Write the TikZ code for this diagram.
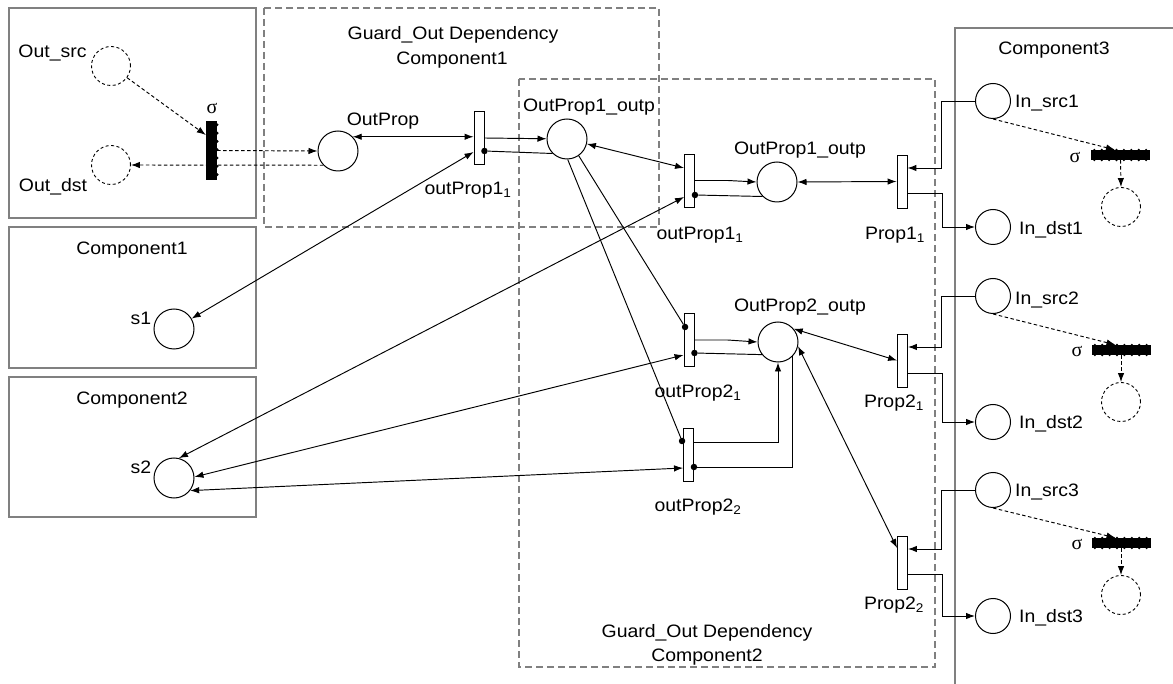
\documentclass[tikz,border=0pt]{standalone}
\usepackage{fontspec}
\setmainfont{Liberation Sans}[FakeStretch=1.08]
\newfontfamily\sigfont{Liberation Serif}
\usetikzlibrary{arrows.meta,calc}

\begin{document}
\begin{tikzpicture}[x=1pt,y=-1pt,
  font=\fontsize{18}{21}\selectfont,
  pl/.style={circle,draw,line width=1pt,minimum size=40pt,inner sep=0pt},
  inpl/.style={pl,minimum size=35pt},
  ghost/.style={pl,minimum size=39pt,line width=0.9pt,dash pattern=on 3pt off 2.5pt},
  tr/.style={rectangle,draw,line width=0.9pt,fill=white,minimum width=10pt,minimum height=53pt,inner sep=0pt},
  sigbar/.style={rectangle,fill=black,inner sep=0pt},
  tokdot/.style={circle,fill=black,minimum size=6.5pt,inner sep=0pt},
  compbox/.style={draw=gray,line width=1.6pt},
  guardbox/.style={draw=gray,line width=1.3pt,dash pattern=on 7pt off 4pt},
  flow/.style={line width=0.95pt,-{Latex[length=9pt,width=6.5pt]}},
  biflow/.style={line width=0.95pt,{Latex[length=9pt,width=6.5pt]}-{Latex[length=9pt,width=6.5pt]}},
  inhflow/.style={line width=0.95pt},
  dflow/.style={flow,dash pattern=on 3.5pt off 2.5pt},
  txt/.style={inner sep=0pt},
  sig/.style={inner sep=0pt,font=\fontsize{20}{22}\sigfont}
]
\useasboundingbox (0,0) rectangle (1173,684);

% component frames
\draw[compbox] (9,8) rectangle (256,218);
\draw[compbox] (9,227) rectangle (256,368);
\draw[compbox] (9,377) rectangle (256,517);
\draw[compbox] (1174,28) -- (955,28) -- (955,685);

% guard/out dependency frames
\draw[guardbox] (264,8) rectangle (659,227);
\draw[guardbox] (519,79) rectangle (935,667);

% places of the source component
\node[ghost] (osrc) at (111,66) {};
\node[ghost] (odst) at (111,165) {};
\node[sigbar,minimum width=11pt,minimum height=59pt] (sg0) at (211.5,150.5) {};
\foreach \k in {0,...,6}
  \fill ($(sg0.north east)+(0,4+8.3*\k)$) circle (1.5);

% guard net
\node[pl] (oprop) at (338,151) {};
\node[tr] (t0) at (479,138) {};
\node[pl] (p1) at (567,139) {};
\node[tr] (t1) at (689.5,180.5) {};
\node[pl] (p2) at (777,182) {};
\node[tr] (t6) at (902,181.5) {};
\node[tr] (t2) at (689,340) {};
\node[pl] (p3) at (778,342) {};
\node[tr] (t3) at (688.5,454.5) {};
\node[tr] (t4) at (902.5,360.5) {};
\node[tr] (t5) at (902.5,562.5) {};

% target places
\node[pl] (s1) at (174,329) {};
\node[pl] (s2) at (174,478) {};

% Component3
\node[inpl] (in1) at (993,101) {};
\node[inpl] (id1) at (993,227) {};
\node[inpl] (in2) at (993,296) {};
\node[inpl] (id2) at (993,422) {};
\node[inpl] (in3) at (993,490) {};
\node[inpl] (id3) at (993,616) {};
\node[sigbar,minimum width=59pt,minimum height=10pt] (sg1) at (1120.5,155) {};
\node[sigbar,minimum width=59pt,minimum height=10pt] (sg2) at (1121,350) {};
\node[sigbar,minimum width=59pt,minimum height=10pt] (sg3) at (1121,543) {};
\foreach \b in {sg1,sg2,sg3}
  \foreach \k in {0,...,7} {
    \fill ($(\b.north west)+(3.5+7.4*\k,0)$) circle (1.1);
    \fill ($(\b.south west)+(3.5+7.4*\k,0)$) circle (1.1);
  }
\node[ghost] (g1) at (1121,207) {};
\node[ghost] (g2) at (1121,402) {};
\node[ghost] (g3) at (1121,595) {};

% inhibitor/test dots on transitions
\node[tokdot] (d0) at ([yshift=-13pt]t0.east) {};
\node[tokdot] (d1) at ([yshift=-14.5pt]t1.east) {};
\node[tokdot] (d2a) at ([xshift=1.5pt,yshift=13pt]t2.west) {};
\node[tokdot] (d2b) at ([yshift=-13pt]t2.east) {};
\node[tokdot] (d3a) at ([xshift=-1pt,yshift=13.5pt]t3.west) {};
\node[tokdot] (d3b) at ([yshift=-12.5pt]t3.east) {};

% connectors in the source component
\draw[dflow] (osrc) -- ([yshift=15.5pt]sg0.west);
\draw[dflow] (sg0.east) -- (oprop.west);
\draw[dflow] (oprop.224) -- (odst.east);

% guard net connectors
\draw[biflow] (oprop.44) -- (oprop.44 -| t0.west);
\draw[flow] (t0.east) -- (p1);
\draw[inhflow] (p1.225) -- (d0);
\draw[biflow] (s1) -- ([yshift=-14pt]t0.west);
\draw[biflow] (p1) -- ([yshift=12.5pt]t1.west);
\draw[biflow] (s2.76) -- ([yshift=-16.5pt]t1.west);
\draw[biflow] (s2.3) -- ([yshift=-15pt]t2.west);
\draw[biflow] (s2.-38) -- ([yshift=-13.5pt]t3.west);
\draw[inhflow] (p1.-55) -- (d2a);
\draw[inhflow] (p1.-88) -- (d3a);
\draw[flow] (t1.east) -- ++(33,0) -- (p2.west);
\draw[inhflow] (p2.225) -- (d1);
\draw[biflow] (p2.east) -- (t6.west);
\draw[flow] (t2.east) -- ++(33,0) -- (p3.west);
\draw[inhflow] (p3.218) -- (d2b);
\draw[flow] ([yshift=12.5pt]t3.east) -| (p3.south);
\draw[inhflow] (p3.-45) |- (d3b);
\draw[biflow] (p3.40) -- (t4.west);
\draw[biflow] (p3.-12) -- ([yshift=14.5pt]t5.west);

% links into Component3
\draw[flow] (in1.west) -- ++(-34,0) |- ([yshift=13.5pt]t6.east);
\draw[flow] ([yshift=-11.5pt]t6.east) -- ++(35,0) |- (id1.west);
\draw[flow] (in2.west) -- ++(-34,0) |- ([yshift=13.5pt]t4.east);
\draw[flow] ([yshift=-12.5pt]t4.east) -- ++(35,0) |- (id2.west);
\draw[flow] (in3.west) -- ++(-34,0) |- ([yshift=13.5pt]t5.east);
\draw[flow] ([yshift=-11.5pt]t5.east) -- ++(35,0) |- (id3.west);
\draw[dflow] (in1.south) -- ([xshift=-5.5pt]sg1.north);
\draw[dflow] (sg1.south) -- (g1.north);
\draw[dflow] (in2.south) -- ([xshift=-5.5pt]sg2.north);
\draw[dflow] (sg2.south) -- (g2.north);
\draw[dflow] (in3.south) -- ([xshift=-5.5pt]sg3.north);
\draw[dflow] (sg3.south) -- (g3.north);

% labels
\node[txt] (lOsrc) at (52.5,53) {Out\_src};
\node[txt] (lOdst) at (53,187) {Out\_dst};
\node[sig] (lsg0) at (212,108) {σ};
\node[txt] (lg1a) at (453,35) {Guard\_Out Dependency};
\node[txt] (lg1b) at (452,60) {Component1};
\node[txt] (loprop) at (383,121) {OutProp};
\node[txt] (lt0) at (468,190) {outProp1\textsubscript{1}};
\node[txt] (lp1) at (589,107) {OutProp1\_outp};
\node[txt] (lp2) at (800,150) {OutProp1\_outp};
\node[txt] (lt1) at (700,235) {outProp1\textsubscript{1}};
\node[txt] (lt6) at (895,235) {Prop1\textsubscript{1}};
\node[txt] (lp3) at (800,307) {OutProp2\_outp};
\node[txt] (lt2) at (698,393) {outProp2\textsubscript{1}};
\node[txt] (lt3) at (698,507) {outProp2\textsubscript{2}};
\node[txt] (lt4) at (894,403) {Prop2\textsubscript{1}};
\node[txt] (lt5) at (894,605) {Prop2\textsubscript{2}};
\node[txt] (lg2a) at (707,633) {Guard\_Out Dependency};
\node[txt] (lg2b) at (707,657) {Component2};
\node[txt] (lc1) at (132,250) {Component1};
\node[txt] (lc2) at (132,400) {Component2};
\node[txt] (ls1) at (141,318) {s1};
\node[txt] (ls2) at (141,467) {s2};
\node[txt] (lc3) at (1054,50) {Component3};
\node[txt,anchor=west] (lin1) at (1015,103) {In\_src1};
\node[txt,anchor=west] (lid1) at (1019,230) {In\_dst1};
\node[txt,anchor=west] (lin2) at (1015,300) {In\_src2};
\node[txt,anchor=west] (lid2) at (1019,424) {In\_dst2};
\node[txt,anchor=west] (lin3) at (1015,492) {In\_src3};
\node[txt,anchor=west] (lid3) at (1019,618) {In\_dst3};
\node[sig] (lsg1) at (1075,157) {σ};
\node[sig] (lsg2) at (1077,351) {σ};
\node[sig] (lsg3) at (1077,544) {σ};
\end{tikzpicture}
\end{document}
